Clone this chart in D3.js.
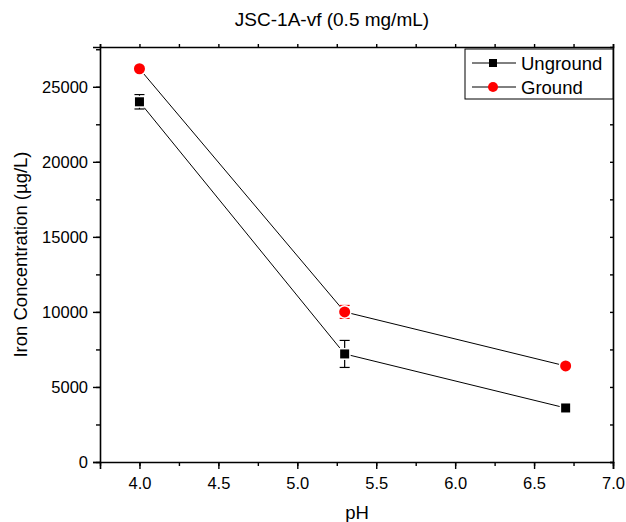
<!DOCTYPE html>
<html>
<head>
<meta charset="utf-8">
<script src="https://cdn.jsdelivr.net/npm/d3@7/dist/d3.min.js"></script>
<style>
  body { margin: 0; background: #fff; }
  text { font-family: "Liberation Sans", Arial, sans-serif; fill: #000; }
</style>
</head>
<body>
<svg id="chart" width="626" height="522"></svg>
<script>
// data
const phValues = [4.0, 5.3, 6.7];
const ungroundVals = [24000, 7200, 3600];
const ungroundErr = [480, 900, 0];
const groundVals = [26200, 10000, 6400];
const groundErr = [150, 430, 0];
const xTicks = [4.0, 4.5, 5.0, 5.5, 6.0, 6.5, 7.0];
const yTicks = [0, 5000, 10000, 15000, 20000, 25000];
const seriesNames = ['Unground', 'Ground'];

const svg = d3.select('#chart');
const plotLeft = 100, plotRight = 613, plotTop = 47, plotBottom = 462;

const x = d3.scaleLinear().domain([3.75, 7.0]).range([plotLeft, plotRight]);
const y = d3.scaleLinear().domain([0, 27650]).range([plotBottom, plotTop]);

const minorX = d3.range(3.75, 7.01, 0.25);
const minorY = d3.range(0, 27651, 2500);

// bottom axis
const xAxis = svg.append('g')
  .attr('transform', `translate(0,${plotBottom})`)
  .call(d3.axisBottom(x).tickValues(xTicks).tickFormat(d3.format('.1f')).tickSize(7).tickPadding(8));
svg.append('g')
  .attr('transform', `translate(0,${plotBottom})`)
  .call(d3.axisBottom(x).tickValues(minorX).tickFormat('').tickSize(4))
  .select('.domain').remove();

// left axis
const yAxis = svg.append('g')
  .attr('transform', `translate(${plotLeft},0)`)
  .call(d3.axisLeft(y).tickValues(yTicks).tickFormat(d3.format('d')).tickSize(7).tickPadding(5));
svg.append('g')
  .attr('transform', `translate(${plotLeft},0)`)
  .call(d3.axisLeft(y).tickValues(minorY).tickFormat('').tickSize(4))
  .select('.domain').remove();

// top and right mirror axes
svg.append('g')
  .attr('transform', `translate(0,${plotTop})`)
  .call(d3.axisTop(x).tickValues(minorX).tickFormat('').tickSize(3));
svg.append('g')
  .attr('transform', `translate(${plotRight},0)`)
  .call(d3.axisLeft(y).tickValues(minorY).tickFormat('').tickSize(3));

svg.selectAll('.domain').attr('stroke-width', 1.6);
svg.selectAll('.tick line').attr('stroke-width', 1.4);
xAxis.selectAll('text').style('font-size', '16.5px');
yAxis.selectAll('text').style('font-size', '16.5px');

// titles
svg.append('text')
  .attr('x', 332).attr('y', 26)
  .attr('text-anchor', 'middle')
  .style('font-size', '19px')
  .text('JSC-1A-vf (0.5 mg/mL)');
svg.append('text')
  .attr('x', 357).attr('y', 519)
  .attr('text-anchor', 'middle')
  .style('font-size', '18.5px')
  .text('pH');
svg.append('text')
  .attr('transform', `translate(27,${(plotTop + plotBottom) / 2}) rotate(-90)`)
  .attr('text-anchor', 'middle')
  .style('font-size', '18.5px')
  .text('Iron Concentration (\u00b5g/L)');

const line = d3.line().x(d => x(d[0])).y(d => y(d[1]));

function drawSeries(vals, errs, color, shape) {
  const pts = phValues.map((p, i) => [p, vals[i], errs[i]]);
  svg.append('path')
    .datum(pts)
    .attr('d', line)
    .attr('fill', 'none')
    .attr('stroke', '#000')
    .attr('stroke-width', 1);
  const eg = svg.append('g');
  pts.filter(d => d[2] > 0).forEach(d => {
    const cx = x(d[0]);
    eg.append('line').attr('x1', cx).attr('x2', cx)
      .attr('y1', y(d[1] - d[2])).attr('y2', y(d[1] + d[2]))
      .attr('stroke', color).attr('stroke-width', 1.2);
    [d[1] - d[2], d[1] + d[2]].forEach(v => {
      eg.append('line').attr('x1', cx - 5).attr('x2', cx + 5)
        .attr('y1', y(v)).attr('y2', y(v))
        .attr('stroke', color).attr('stroke-width', 1.2);
    });
  });
  // markers with a thin white halo, so the line stops short of them
  pts.forEach(d => {
    let m;
    if (shape === 'square') {
      m = svg.append('rect')
        .attr('x', x(d[0]) - 4.5).attr('y', y(d[1]) - 4.5)
        .attr('width', 9).attr('height', 9);
    } else {
      m = svg.append('circle')
        .attr('cx', x(d[0])).attr('cy', y(d[1])).attr('r', 5.5);
    }
    m.attr('fill', color)
      .attr('stroke', '#fff').attr('stroke-width', 3)
      .style('paint-order', 'stroke');
  });
}

drawSeries(ungroundVals, ungroundErr, '#000', 'square');
drawSeries(groundVals, groundErr, '#ff0000', 'circle');

// legend
const lg = svg.append('g');
lg.append('rect')
  .attr('x', 465).attr('y', 49).attr('width', 148).attr('height', 50)
  .attr('fill', '#fff').attr('stroke', '#000').attr('stroke-width', 1);
seriesNames.forEach((name, i) => {
  const cy = 63 + i * 24;
  lg.append('line').attr('x1', 472).attr('x2', 516).attr('y1', cy).attr('y2', cy)
    .attr('stroke', '#000').attr('stroke-width', 1);
  if (i === 0) {
    lg.append('rect').attr('x', 489).attr('y', cy - 4).attr('width', 8).attr('height', 8).attr('fill', '#000');
  } else {
    lg.append('circle').attr('cx', 493).attr('cy', cy).attr('r', 5).attr('fill', '#ff0000');
  }
  lg.append('text').attr('x', 521).attr('y', cy + 6.5)
    .style('font-size', '18.5px').text(name);
});
</script>
</body>
</html>
